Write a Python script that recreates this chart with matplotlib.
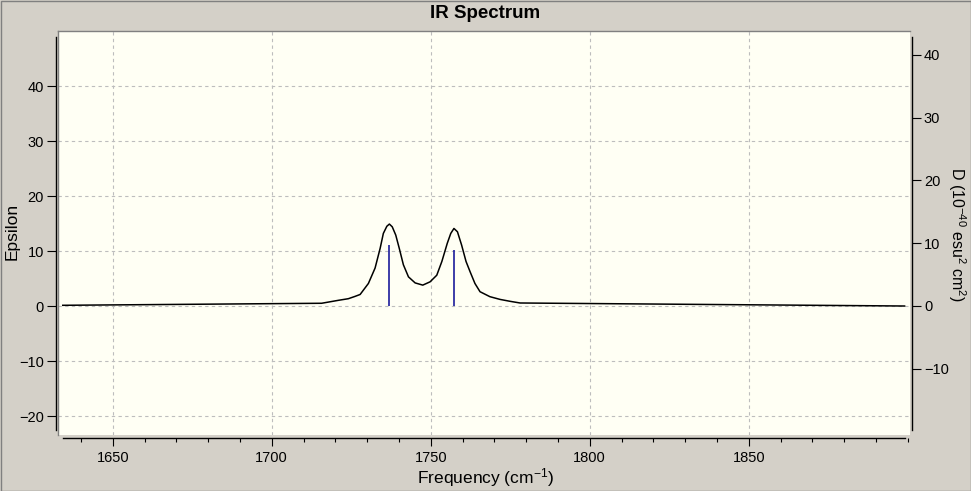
import matplotlib
matplotlib.use("Agg")
import matplotlib.pyplot as plt
from matplotlib.lines import Line2D
from matplotlib.patches import Rectangle
from matplotlib.ticker import MultipleLocator

plt.rcParams['font.family'] = ['Liberation Sans', 'DejaVu Sans']
plt.rcParams['mathtext.default'] = 'regular'

# broadened spectrum (cm-1, epsilon)
freq = [1634.3, 1715.7, 1721.0, 1724.1, 1726.2, 1727.8, 1730.4, 1732.5,
        1734.1, 1735.1, 1736.2, 1737.0, 1737.9, 1739.0, 1740.1, 1741.4,
        1743.0, 1745.1, 1747.5, 1749.8, 1751.9, 1753.5, 1755.2, 1756.3,
        1757.3, 1758.4, 1759.7, 1761.1, 1762.4, 1763.9, 1765.5, 1768.6,
        1771.8, 1775.0, 1778.1, 1899.0]
epsilon = [0.13, 0.50, 1.04, 1.33, 1.75, 2.1, 4.1, 6.9,
           10.5, 13.2, 14.5, 14.9, 14.4, 12.9, 10.5, 7.5,
           5.3, 4.2, 3.8, 4.4, 5.6, 8.1, 11.4, 13.2,
           14.1, 13.5, 11.1, 8.1, 6.2, 4.1, 2.6, 1.7,
           1.2, 0.85, 0.55, 0.0]

# stick intensities (right axis)
stick_freq = [1737.0, 1757.4]
stick_d = [9.7, 8.9]

x_ticks = [1650, 1700, 1750, 1800, 1850]
eps_ticks = [-20, -10, 0, 10, 20, 30, 40]
d_ticks = [-10, 0, 10, 20, 30, 40]

W, H = 971, 491
bg = '#d4d0c8'
cream = '#fffff4'
narrow = ['Liberation Sans Narrow', 'Liberation Sans', 'DejaVu Sans']

fig = plt.figure(figsize=(W / 100, H / 100), dpi=100, facecolor=bg)
# plot area in pixels: x 58..910, y 31..435
ax = fig.add_axes([58 / W, 1 - 435 / H, 852 / W, 404 / H])
ax.set_facecolor(cream)

ax.plot(freq, epsilon, color='black', lw=1.1, zorder=3)
ax.set_xlim(1632.8, 1900.7)
ax.set_ylim(-23.45, 50.0)

ax.set_xticks(x_ticks)
ax.xaxis.set_minor_locator(MultipleLocator(10))
ax.set_yticks(eps_ticks)
ax.grid(True, which='major', color='#bdbdbd', ls=(0, (3, 3)), lw=0.8)
ax.set_axisbelow(True)

for s in ['top', 'right']:
    ax.spines[s].set_visible(False)
ax.spines['left'].set_position(('outward', 1.5))
ax.spines['bottom'].set_position(('outward', 2.2))
ax.spines['left'].set_bounds(-22.5, 48.9)
ax.spines['bottom'].set_bounds(1634.3, 1899.0)
for s in ['left', 'bottom']:
    ax.spines[s].set_linewidth(1.0)

ax.tick_params(axis='y', which='major', length=6.5, width=0.8, pad=2)
ax.tick_params(axis='x', which='major', length=6.0, width=0.8, pad=3)
ax.tick_params(axis='x', which='minor', length=3.0, width=0.8)
for lab in ax.get_xticklabels() + ax.get_yticklabels():
    lab.set_family(narrow)
    lab.set_fontsize(10.5)

ax.set_xlabel('Frequency (cm$^{-1}$)', fontsize=12.5, va='center')
ax.xaxis.set_label_coords(0.502, -0.106)
ax.set_ylabel('Epsilon', fontsize=12.5, va='center')
ax.yaxis.set_label_coords(-0.054, 0.505)

# right axis for the sticks
ax2 = ax.twinx()
ax2.set_ylim(-20.56, 43.8)
ax2.vlines(stick_freq, 0, stick_d, color='#1c1c9c', lw=1.2, zorder=4)
ax2.set_yticks(d_ticks)
for s in ['top', 'left', 'bottom']:
    ax2.spines[s].set_visible(False)
ax2.spines['right'].set_position(('outward', 1.5))
ax2.spines['right'].set_bounds(-19.8, 42.9)
ax2.spines['right'].set_linewidth(1.0)
ax2.tick_params(axis='y', length=6.5, width=0.8, pad=2)
for lab in ax2.get_yticklabels():
    lab.set_family(narrow)
    lab.set_fontsize(10.5)
ax2.set_ylabel('D (10$^{-40}$ esu$^{2}$ cm$^{2}$)', rotation=270,
               fontsize=11.5, va='center')
ax2.yaxis.set_label_coords(1.055, 0.4975)

fig.text(0.5, 1 - 14 / H, 'IR Spectrum', ha='center', va='center',
         fontsize=13.5, fontweight='bold')

# sunken edge of the plot area and the window border
fig.add_artist(Line2D([58 / W, 910 / W], [1 - 31 / H, 1 - 31 / H],
                      color='#808080', lw=1.0))
fig.add_artist(Line2D([58 / W, 58 / W], [1 - 31 / H, 1 - 435 / H],
                      color='#808080', lw=1.0))
fig.add_artist(Rectangle((0.5 / W, 0.5 / H), 1 - 1 / W, 1 - 1 / H,
                         transform=fig.transFigure, fill=False,
                         edgecolor='#808080', lw=1.0))

fig.savefig('out.png', dpi=100, facecolor=bg)
